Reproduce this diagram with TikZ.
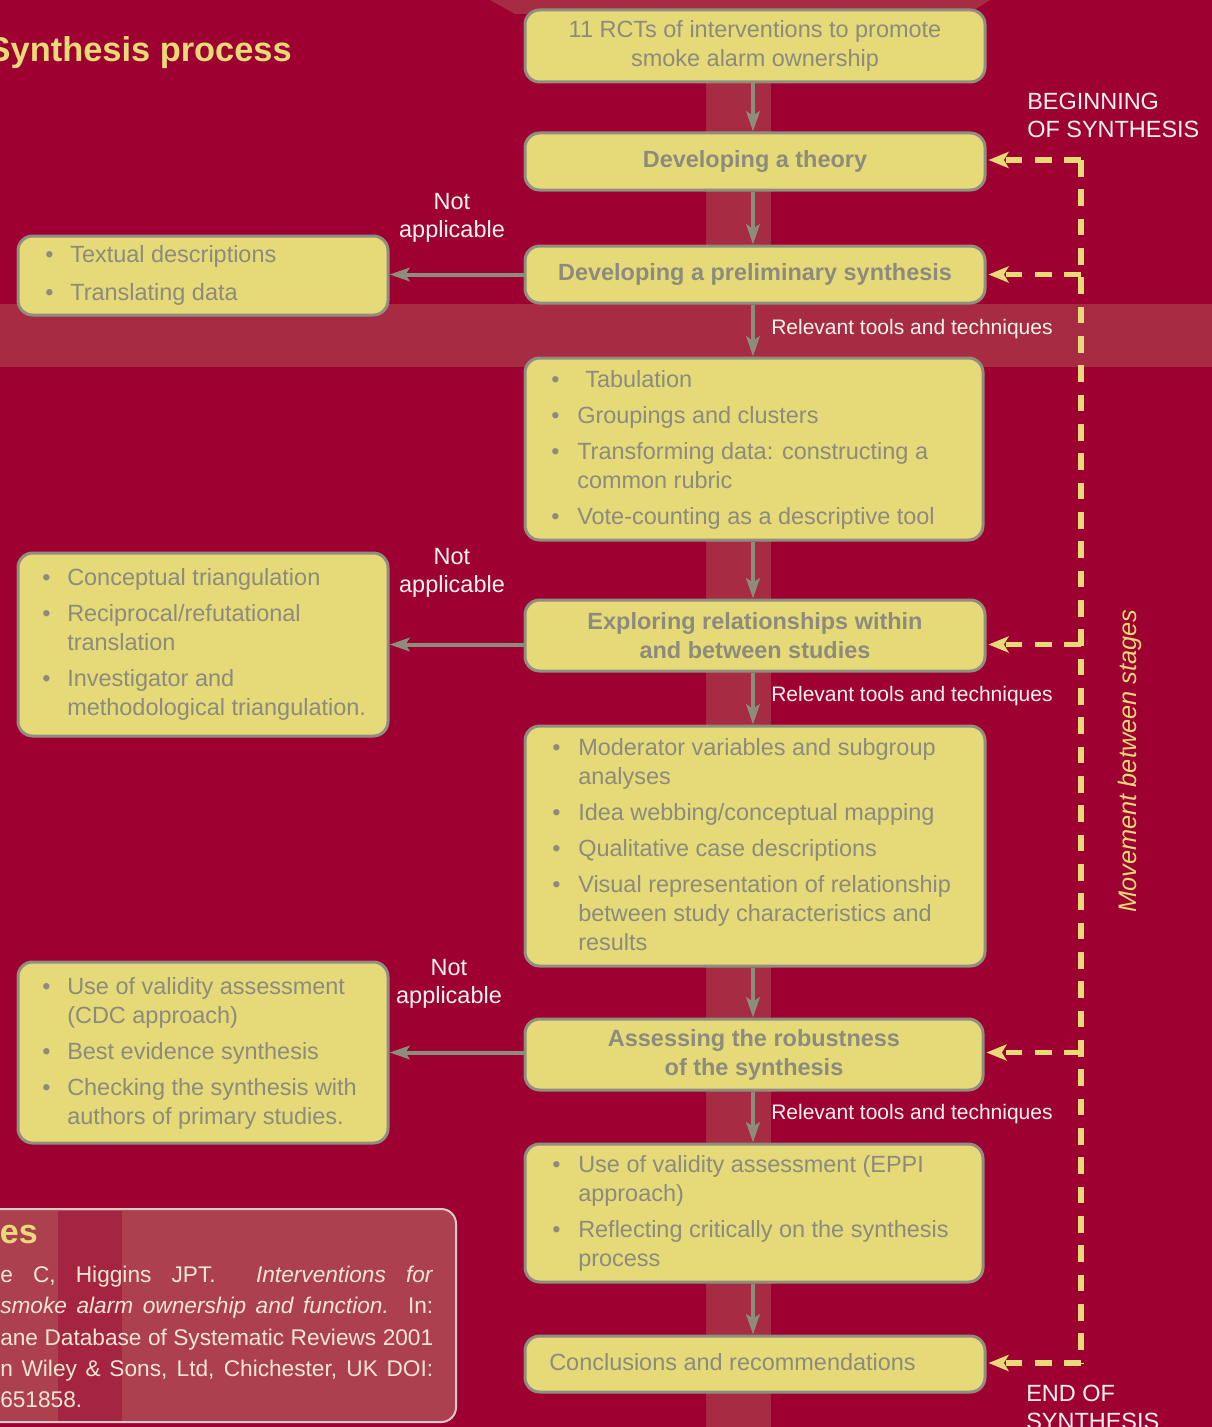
\documentclass[tikz,border=0pt]{standalone}
\usepackage{fontspec}
\setmainfont{Liberation Sans}
\usetikzlibrary{arrows.meta,calc}
\definecolor{bg}{HTML}{9E0032}
\definecolor{band}{HTML}{A72B42}
\definecolor{boxfill}{HTML}{E5D978}
\definecolor{boxline}{HTML}{8F8F80}
\definecolor{boxtext}{HTML}{8C8B7D}
\definecolor{ylw}{HTML}{E8DA76}
\definecolor{wht}{HTML}{FDF3EE}
\definecolor{arrowgray}{HTML}{8D8D7E}
\definecolor{reffill}{HTML}{AD404F}
\definecolor{refstripe}{HTML}{A42441}
\definecolor{refline}{HTML}{D6CAC4}
\definecolor{reftext}{HTML}{F4E7D2}
\newcommand\bxfont{\fontsize{17.6}{21.75}\selectfont}
\newcommand\ybox[6]{\node[ybox, minimum width={(#4-#2)*0.75pt}, minimum height={(#5-#3)*0.75pt}] (#1) at ({(#2+#4)/2},{(#3+#5)/2}) {#6};}
\begin{document}
\begin{tikzpicture}[x=0.75pt,y=-0.75pt,
  ybox/.style={draw=boxline, line width=2.25pt, fill=boxfill, rounded corners=11pt,
    inner sep=0pt, text=boxtext, font=\bxfont\bfseries, align=center},
  lst/.style={anchor=base west, inner sep=0pt, text=boxtext, font=\bxfont},
  garrow/.style={draw=arrowgray, line width=3pt, -{Stealth[length=15pt,width=10pt,inset=3pt]}},
  ydash/.style={draw=ylw, line width=4pt, dash pattern=on 12.5pt off 9.5pt},
  yarrow/.style={ydash, -{Stealth[length=15pt,width=12pt,inset=3.5pt]}, shorten >=1.5pt},
  wlbl/.style={text=wht, inner sep=0pt, font=\fontsize{17.6}{21}\selectfont},
  rlbl/.style={text=wht, inner sep=0pt, anchor=west, font=\fontsize{15.75}{19}\selectfont},
  refl/.style={anchor=base west, inner sep=0pt, text=reftext, font=\fontsize{17}{23}\selectfont}]
\useasboundingbox (0,0) rectangle (1212,1427);
% background
\fill[bg] (0,0) rectangle (1212,1427);
\fill[band] (0,304) rectangle (1212,367);
\fill[band] (706,0) rectangle (771,1427);
\fill[band] (490,0) -- (990,0) -- (968,14) -- (515,14) -- cycle;
% reference panel
\draw[refline, line width=1.5pt, fill=reffill, rounded corners=11pt] (-30,1209) rectangle (456,1422);
\fill[refstripe] (58,1210.5) rectangle (122,1420.5);
\node[anchor=base east, inner sep=0pt, text=ylw, font=\fontsize{25.5}{30}\selectfont\bfseries] (refhead) at (38,1243) {es};
\node[refl] (r1) at (0,1282) {\makebox[324.75pt][s]{e C, Higgins JPT.\ \ \textit{Interventions for}}};
\node[refl] (r2) at (0,1313) {\makebox[324.75pt][s]{\textit{smoke alarm ownership and function.}\ \ In:}};
\node[refl] (r3) at (0,1345) {\makebox[324.75pt][s]{ane Database of Systematic Reviews 2001}};
\node[refl] (r4) at (0,1376) {\makebox[324.75pt][s]{n Wiley \& Sons, Ltd, Chichester, UK DOI:}};
\node[refl] (r5) at (0,1407) {651858.};
% title
\node[anchor=base east, inner sep=0pt, text=ylw, font=\fontsize{25.8}{30}\selectfont\bfseries] (title) at (292,62) {Synthesis process};
% stage boxes
\ybox{b1}{525}{10}{985}{82}{\mdseries 11 RCTs of interventions to promote\\\mdseries smoke alarm ownership}
\ybox{b2}{525}{133}{985}{190}{Developing a theory}
\ybox{b3}{525}{246}{985}{303}{Developing a preliminary synthesis}
\ybox{b5}{525}{358}{983}{540}{}
\ybox{b6}{525}{600}{985}{671}{Exploring relationships within\\and between studies}
\ybox{b8}{525}{726}{985}{966}{}
\ybox{b9}{525}{1019}{983}{1090}{Assessing the robustness\\of the synthesis}
\ybox{b11}{525}{1144}{983}{1282}{}
\ybox{b12}{525}{1336}{985}{1392}{}
\node[lst, anchor=west] (b12t) at (549,1362) {Conclusions and recommendations};
% left boxes
\ybox{l1}{18}{236}{388}{315}{}
\ybox{l2}{18}{553}{388}{736}{}
\ybox{l3}{18}{962}{388}{1143}{}
% list texts
\node[lst] (l1t) at (45,262.5) {\begin{tabular}[t]{@{}p{18.75pt}@{}l@{}}
\textbullet & Textual descriptions\\[6.75pt]
\textbullet & Translating data\end{tabular}};
\node[lst] (b5t) at (551,387.5) {\begin{tabular}[t]{@{}p{19.5pt}@{}l@{}}
\textbullet & \hspace{6pt}Tabulation\\[5.25pt]
\textbullet & Groupings and clusters\\[5.25pt]
\textbullet & Transforming data: constructing a\\
 & common rubric\\[5.25pt]
\textbullet & Vote-counting as a descriptive tool\end{tabular}};
\node[lst] (l2t) at (42,585.5) {\begin{tabular}[t]{@{}p{18.75pt}@{}l@{}}
\textbullet & Conceptual triangulation\\[5.25pt]
\textbullet & Reciprocal/refutational\\
 & translation\\[5.25pt]
\textbullet & Investigator and\\
 & methodological triangulation.\end{tabular}};
\node[lst] (b8t) at (552,755.5) {\begin{tabular}[t]{@{}p{19.5pt}@{}l@{}}
\textbullet & Moderator variables and subgroup\\
 & analyses\\[5.25pt]
\textbullet & Idea webbing/conceptual mapping\\[5.25pt]
\textbullet & Qualitative case descriptions\\[5.25pt]
\textbullet & Visual representation of relationship\\
 & between study characteristics and\\
 & results\end{tabular}};
\node[lst] (l3t) at (42,994.5) {\begin{tabular}[t]{@{}p{18.75pt}@{}l@{}}
\textbullet & Use of validity assessment\\
 & (CDC approach)\\[5.25pt]
\textbullet & Best evidence synthesis\\[5.25pt]
\textbullet & Checking the synthesis with\\
 & authors of primary studies.\end{tabular}};
\node[lst] (b11t) at (552,1172.5) {\begin{tabular}[t]{@{}p{19.5pt}@{}l@{}}
\textbullet & Use of validity assessment (EPPI\\
 & approach)\\[5.25pt]
\textbullet & Reflecting critically on the synthesis\\
 & process\end{tabular}};
% vertical arrows
\coordinate (ax) at (753,0);
\draw[garrow] (b1.south -| ax) -- (b2.north -| ax);
\draw[garrow] (b2.south -| ax) -- (b3.north -| ax);
\draw[garrow] (b3.south -| ax) -- (b5.north -| ax);
\draw[garrow] (b5.south -| ax) -- (b6.north -| ax);
\draw[garrow] (b6.south -| ax) -- (b8.north -| ax);
\draw[garrow] (b8.south -| ax) -- (b9.north -| ax);
\draw[garrow] (b9.south -| ax) -- (b11.north -| ax);
\draw[garrow] (b11.south -| ax) -- (b12.north -| ax);
% horizontal arrows
\draw[garrow] (b3.west) -- (b3.west -| l1.east);
\draw[garrow] (b6.west |- l2.east) -- (l2.east);
\draw[garrow] (b9.west |- l3.east) -- (l3.east);
% dashed feedback
\coordinate (vtop) at (1081,160);
\coordinate (vbot) at (1081,1363);
\draw[ydash] (vtop) -- (vbot);
\draw[yarrow] (vtop) -- (vtop -| b2.east);
\draw[yarrow] (vtop |- b3.east) -- (b3.east);
\draw[yarrow] (vtop |- l2.east) -- (b6.east |- l2.east);
\draw[yarrow] (vtop |- l3.east) -- (b9.east |- l3.east);
\draw[yarrow] (vbot) -- (vbot -| b12.east);
% labels
\node[wlbl, align=center] (na1) at (452,218) {Not\\applicable};
\node[wlbl, align=center] (na2) at (452,573) {Not\\applicable};
\node[wlbl, align=center] (na3) at (449,984) {Not\\applicable};
\node[rlbl] (rt1) at (771,329) {Relevant tools and techniques};
\node[rlbl] (rt2) at (771,696) {Relevant tools and techniques};
\node[rlbl] (rt3) at (771,1114) {Relevant tools and techniques};
\node[wlbl, anchor=west, align=left] (beg) at (1027,115) {BEGINNING\\OF SYNTHESIS};
\node[wlbl, anchor=west, align=left] (endl) at (1026,1407) {END OF\\SYNTHESIS};
\node[rotate=90, inner sep=0pt, text=ylw, font=\fontsize{19}{22}\selectfont\itshape] (mv) at (1130,761) {Movement between stages};
\end{tikzpicture}
\end{document}
